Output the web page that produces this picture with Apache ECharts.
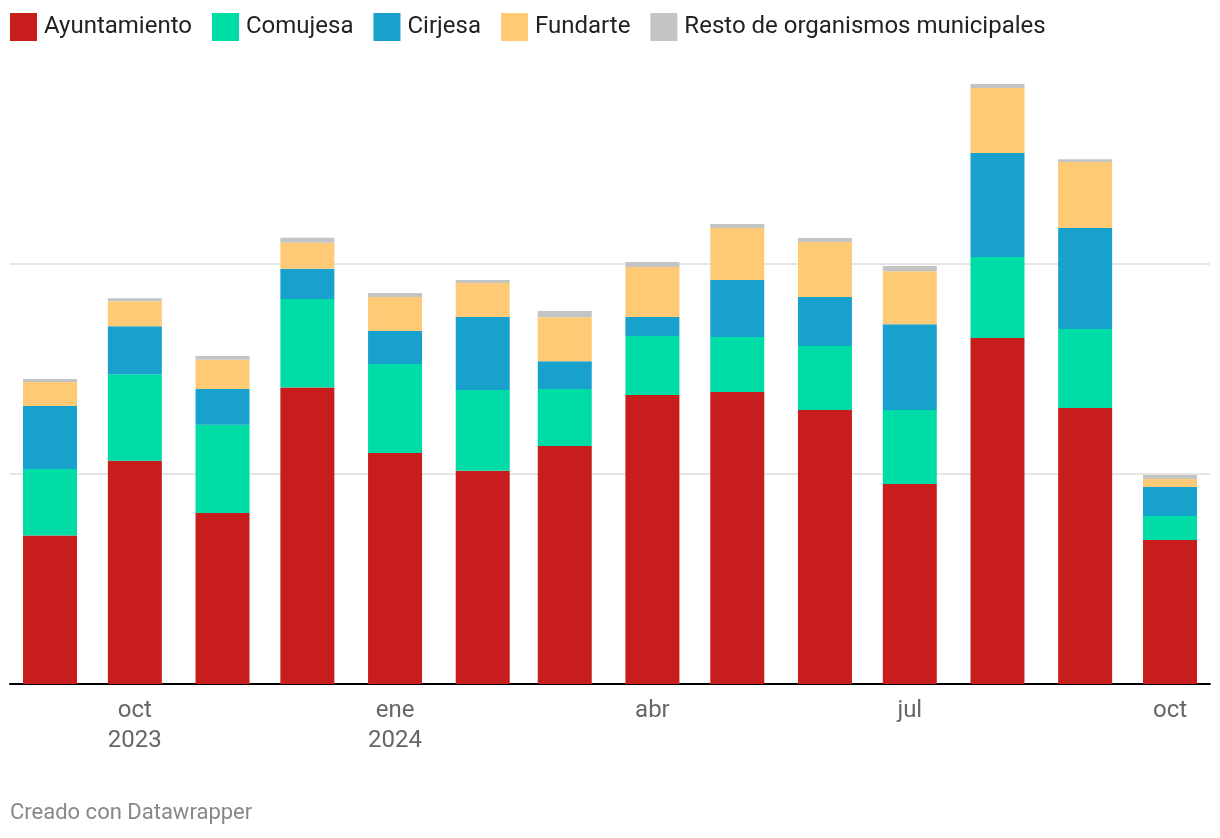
<!DOCTYPE html>
<html>
<head>
<meta charset="utf-8">
<script src="https://cdn.jsdelivr.net/npm/echarts@6/dist/echarts.min.js"></script>
<style>
html,body{margin:0;padding:0;background:#fff;}
#chart{width:1220px;height:838px;}
</style>
</head>
<body>
<div id="chart"></div>
<script>
// Months (first day of each month), Sep 2023 - Oct 2024
const months = ["2023-09","2023-10","2023-11","2023-12","2024-01","2024-02","2024-03","2024-04","2024-05","2024-06","2024-07","2024-08","2024-09","2024-10"];
const seriesNames = ["Ayuntamiento","Comujesa","Cirjesa","Fundarte","Resto de organismos municipales"];
const ayuntamiento = [7.06,10.62,8.14,14.10,10.99,10.15,11.32,13.75,13.89,13.04,9.51,16.46,13.13,6.85];
const comujesa     = [3.17,4.12,4.19,4.22,4.23,3.84,2.71,2.81,2.62,3.04,3.52,3.85,3.76,1.14];
const cirjesa      = [3.00,2.28,1.71,1.43,1.57,3.47,1.33,0.90,2.71,2.33,4.09,4.95,4.80,1.38];
const fundarte     = [1.14,1.19,1.39,1.24,1.62,1.62,2.09,2.38,2.47,2.62,2.52,3.09,3.14,0.38];
const resto        = [0.14,0.14,0.18,0.24,0.19,0.14,0.29,0.24,0.19,0.19,0.24,0.19,0.14,0.19];
const tickMonths = ["2023-10","2024-01","2024-04","2024-07","2024-10"];
const tickLabels = ["oct\n2023","ene\n2024","abr","jul","oct"];
const colors = ["#c71e1d","#00dca6","#18a1cd","#ffca76","#c4c4c4"];

// day index since 2023-09-01 (real calendar spacing, as in the original time axis)
function dayIdx(s){ const [y,m]=s.split("-").map(Number); return Math.round((Date.UTC(y,m-1,1)-Date.UTC(2023,8,1))/86400000); }
const xs = months.map(dayIdx);
const pad = 14.143;
const tickVals = tickMonths.map(dayIdx);

const allData = [ayuntamiento, comujesa, cirjesa, fundarte, resto];
const series = allData.map((arr,i)=>({
  name: seriesNames[i],
  type: 'bar',
  stack: 'total',
  barWidth: 54,
  itemStyle: {color: colors[i]},
  emphasis: {disabled: true},
  // value first so that the stack is made on the value dimension
  encode: {x: 1, y: 0},
  data: arr.map((v,j)=>[v, xs[j]])
}));

const chart = echarts.init(document.getElementById('chart'), null, {renderer:'canvas'});
chart.setOption({
  animation: false,
  color: colors,
  textStyle: {fontFamily: 'Roboto'},
  legend: {
    left: 5, top: 8,
    icon: 'rect',
    itemWidth: 27, itemHeight: 28,
    itemGap: 20,
    selectedMode: false,
    textStyle: {fontFamily: 'Roboto', fontSize: 24, color: '#222', padding: [0,0,0,2]},
    data: seriesNames
  },
  grid: {left: 10, right: 10, top: 53.4, bottom: 154, containLabel: false},
  xAxis: {
    type: 'value',
    min: xs[0]-pad,
    max: xs[xs.length-1]+pad,
    axisLine: {show: true, onZero: true, lineStyle: {color: '#000', width: 2}},
    axisTick: {show: false},
    splitLine: {show: false},
    axisLabel: {
      customValues: tickVals,
      fontFamily: 'Roboto',
      fontSize: 24,
      color: '#666',
      lineHeight: 30,
      margin: 12,
      hideOverlap: false,
      showMinLabel: true, showMaxLabel: true,
      formatter: function(v){
        const i = tickVals.indexOf(Math.round(v));
        return i >= 0 ? tickLabels[i] : '';
      }
    }
  },
  yAxis: {
    type: 'value',
    min: 0, max: 30, interval: 10,
    axisLine: {show: false},
    axisTick: {show: false},
    axisLabel: {show: false},
    splitLine: {show: true, showMaxLine: false, lineStyle: {color: '#e6e6e6', width: 2}}
  },
  graphic: [{
    type: 'text', left: 10, top: 802,
    style: {text: 'Creado con Datawrapper', fontFamily: 'Roboto', fontSize: 22, fill: '#888'}
  }],
  series: series
});
</script>
</body>
</html>
